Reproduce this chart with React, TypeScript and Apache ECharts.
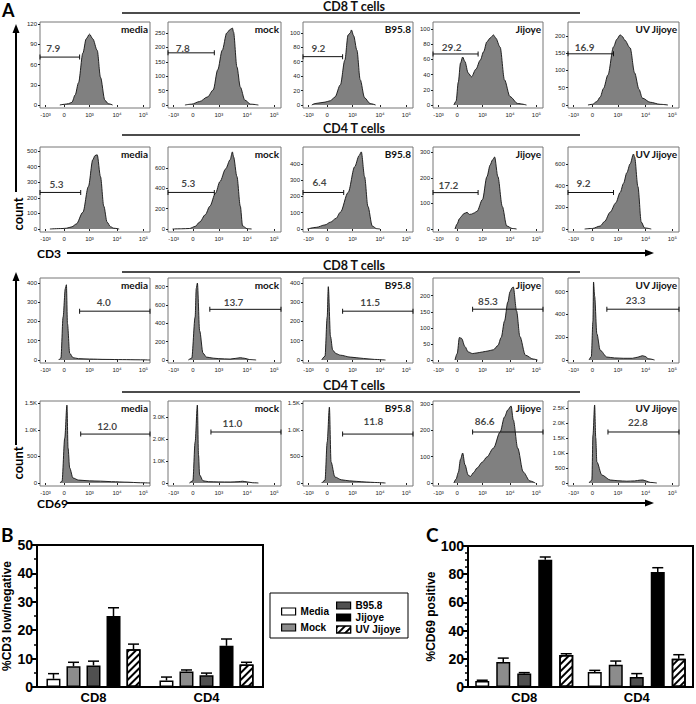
import React, { useEffect, useRef } from 'react';
import * as echarts from 'echarts';

// ---------- Panel A : flow histograms ----------
const conditions = ['media', 'mock', 'B95.8', 'Jijoye', 'UV Jijoye'];
const rowTitles = ['CD8 T cells', 'CD4 T cells', 'CD8 T cells', 'CD4 T cells'];
const flowXTicks = [5, 22, 45, 70, 94];
const flowXLabels = ['-10³', '0', '10³', '10⁴', '10⁵'];

// CD3 staining, CD8 T cells  ([x position %, count])
const cd3Cd8Media = [[18, 0], [22, 1], [26, 2], [29, 4], [32, 15], [35, 33], [39, 77], [42, 98], [45, 105], [48, 98], [52, 81], [55, 41], [59, 7], [62, 2], [66, 0]];
const cd3Cd8Mock = [[15, 0], [21, 3], [28, 12], [35, 28], [40, 52], [44, 122], [48, 190], [52, 250], [55, 262], [57, 267], [58, 253], [61, 132], [64, 62], [68, 17], [73, 3], [80, 0]];
const cd3Cd8B958 = [[8, 0], [11, 2], [20, 4], [25, 6], [29, 11], [34, 28], [38, 62], [41, 97], [43, 100], [44, 104], [46, 96], [49, 76], [52, 35], [56, 10], [61, 2], [66, 0]];
const cd3Cd8Jijoye = [[19, 0], [21, 5], [23, 30], [25, 55], [27, 63], [29, 57], [32, 42], [35, 37], [39, 47], [43, 59], [46, 70], [49, 83], [52, 88], [55, 92], [57, 88], [61, 76], [65, 33], [70, 11], [77, 2], [85, 0]];
const cd3Cd8UV = [[18, 0], [22, 2], [26, 10], [29, 23], [32, 48], [36, 87], [41, 168], [44, 190], [47, 203], [49, 198], [51, 188], [56, 165], [60, 93], [64, 45], [67, 20], [74, 8], [83, 2], [90, 0]];

// CD3 staining, CD4 T cells
const cd3Cd4Media = [[9, 0], [20, 3], [24, 5], [29, 14], [33, 32], [39, 107], [44, 272], [48, 443], [50, 470], [52, 475], [55, 335], [58, 146], [61, 44], [64, 15], [67, 5], [72, 0]];
const cd3Cd4Mock = [[4, 0], [12, 2], [19, 5], [24, 25], [28, 68], [33, 140], [37, 223], [42, 350], [46, 466], [51, 590], [55, 680], [57, 757], [58, 709], [61, 515], [64, 223], [66, 30], [70, 3], [74, 0]];
const cd3Cd4B958 = [[4, 0], [12, 10], [20, 25], [25, 42], [30, 65], [34, 103], [41, 224], [47, 382], [51, 450], [53, 473], [56, 321], [59, 139], [63, 18], [67, 2], [70, 0]];
const cd3Cd4Jijoye = [[20, 0], [22, 20], [24, 40], [26, 50], [28, 60], [31, 65], [33, 57], [35, 58], [37, 62], [40, 69], [45, 115], [49, 204], [52, 250], [54, 269], [56, 281], [59, 204], [63, 88], [67, 12], [72, 2], [76, 0]];
const cd3Cd4UV = [[15, 0], [22, 5], [29, 27], [33, 70], [38, 155], [43, 240], [47, 336], [50, 420], [53, 518], [56, 600], [59, 690], [60, 664], [63, 390], [66, 64], [69, 10], [75, 0]];

// CD69 staining, CD8 T cells
const cd69Cd8Media = [[17, 0], [19, 10], [21, 223], [23, 370], [24, 390], [25, 187], [27, 35], [30, 12], [35, 7], [45, 5], [60, 3], [75, 2], [90, 1], [100, 0]];
const cd69Cd8Mock = [[18, 0], [21, 20], [24, 468], [25, 780], [26, 840], [28, 319], [31, 74], [34, 32], [40, 20], [45, 15], [55, 10], [60, 18], [64, 25], [68, 18], [72, 5], [78, 0]];
const cd69Cd8B958 = [[17, 0], [20, 20], [22, 223], [23, 380], [25, 122], [27, 51], [30, 33], [34, 25], [43, 15], [55, 8], [65, 3], [75, 0]];
const cd69Cd8Jijoye = [[20, 0], [22, 20], [24, 70], [26, 67], [29, 42], [32, 25], [36, 20], [40, 22], [45, 25], [50, 28], [55, 32], [59, 45], [62, 70], [65, 121], [68, 180], [70, 212], [72, 225], [73, 227], [76, 152], [79, 73], [84, 15], [91, 3], [95, 0]];
const cd69Cd8UV = [[19, 0], [21, 30], [22.5, 343], [23, 685], [24, 560], [26, 231], [29, 86], [35, 26], [42, 18], [50, 15], [58, 15], [63, 25], [67, 38], [70, 30], [72, 12], [78, 0]];

// CD69 staining, CD4 T cells
const cd69Cd4Media = [[18, 0], [20, 30], [22.5, 844], [24.5, 1463], [25.5, 656], [27, 281], [30, 94], [35, 55], [45, 40], [55, 35], [65, 25], [80, 15], [90, 5], [100, 0]];
const cd69Cd4Mock = [[19, 0], [22, 100], [24, 1864], [26, 3545], [27, 1273], [28, 364], [31, 100], [36, 60], [45, 50], [55, 45], [62, 60], [66, 80], [70, 50], [75, 10], [80, 0]];
const cd69Cd4B958 = [[17, 0], [20, 50], [22, 769], [24, 1425], [25.5, 394], [29, 113], [35, 60], [42, 40], [49, 30], [58, 18], [65, 10], [75, 0]];
const cd69Cd4Jijoye = [[19, 0], [21, 15], [23, 40], [25, 90], [27, 114], [29, 70], [32, 30], [34, 25], [37, 40], [40, 57], [45, 80], [49, 99], [55, 133], [61, 194], [65, 251], [68, 278], [71, 293], [73, 240], [77, 133], [82, 42], [88, 8], [93, 0]];
const cd69Cd4UV = [[19, 0], [21.5, 100], [22.5, 1600], [24, 2600], [25, 1500], [26, 700], [30.5, 267], [38, 100], [45, 75], [53, 60], [60, 70], [65, 95], [67.5, 100], [71, 60], [74, 20], [80, 0]];

const rowCurves = [
  [cd3Cd8Media, cd3Cd8Mock, cd3Cd8B958, cd3Cd8Jijoye, cd3Cd8UV],
  [cd3Cd4Media, cd3Cd4Mock, cd3Cd4B958, cd3Cd4Jijoye, cd3Cd4UV],
  [cd69Cd8Media, cd69Cd8Mock, cd69Cd8B958, cd69Cd8Jijoye, cd69Cd8UV],
  [cd69Cd4Media, cd69Cd4Mock, cd69Cd4B958, cd69Cd4Jijoye, cd69Cd4UV],
];

// y-axis extent of each histogram
const rowYMax = [
  [123, 288, 115, 109, 240],
  [525, 805, 503, 320, 755],
  [425, 895, 425, 255, 720],
  [1540, 3727, 1540, 312, 2733],
];
const rowYTicks = [
  [[0, 30, 60, 90, 120], [0, 50, 100, 150, 200, 250], [0, 20, 40, 60, 80, 100], [0, 20, 40, 60, 80, 100], [0, 50, 100, 150, 200]],
  [[0, 100, 200, 300, 400, 500], [0, 200, 400, 600], [0, 100, 200, 300, 400], [0, 100, 200, 300], [0, 200, 400, 600]],
  [[0, 100, 200, 300, 400], [0, 200, 400, 600, 800], [0, 100, 200, 300, 400], [0, 50, 100, 150, 200], [0, 200, 400, 600]],
  [[0, 500, 1000, 1500], [0, 1000, 2000, 3000], [0, 500, 1000, 1500], [0, 100, 200, 300], [0, 500, 1000, 1500, 2000, 2500]],
];

// gates: [x start, x end, level]
const rowGates = [
  [[0, 36, 71], [0, 41, 181], [0, 36, 67], [0, 41, 67], [0, 41, 148]],
  [[0, 37, 234], [0, 41, 359], [0, 37, 224], [0, 41, 142], [0, 41, 336]],
  [[36, 100, 253], [37, 100, 553], [36, 100, 253], [36, 100, 158], [35, 100, 446]],
  [[37, 100, 919], [38, 100, 2318], [36, 100, 919], [36, 100, 194], [36, 100, 1700]],
];
const rowGatePct = [
  ['7.9', '7.8', '9.2', '29.2', '16.9'],
  ['5.3', '5.3', '6.4', '17.2', '9.2'],
  ['4.0', '13.7', '11.5', '85.3', '23.3'],
  ['12.0', '11.0', '11.8', '86.6', '22.8'],
];
const rowGatePctPos = [
  [[12, 84], [13, 198], [14, 79], [17, 76], [15, 168]],
  [[15, 285], [18, 447], [15, 291], [14, 173], [14, 427]],
  [[58, 299], [58, 638], [61, 299], [50, 182], [61, 523]],
  [[61, 1069], [57, 2727], [64, 1163], [47, 236], [63, 2033]],
];

// ---------- Panels B and C : bar charts ----------
const groups = ['CD8', 'CD4'];
const treatments = ['Media', 'Mock', 'B95.8', 'Jijoye', 'UV Jijoye'];
const cd3LowMean = [[2.9, 2.3], [7.3, 5.5], [7.6, 4.1], [25.0, 14.5], [13.3, 7.9]];
const cd3LowSem = [[1.8, 1.2], [1.4, 0.5], [1.5, 0.8], [2.9, 2.4], [1.8, 0.8]];
const cd69Mean = [[4.3, 10.6], [17.7, 15.8], [9.5, 7.1], [90.3, 81.6], [22.7, 20.1]];
const cd69Sem = [[0.5, 1.2], [2.8, 2.6], [0.7, 2.4], [1.9, 3.0], [0.9, 2.8]];

// ---------- layout ----------
const colLeft = [40, 168, 303, 433, 568];
const colWidth = [110, 113, 110, 110, 111];
const rowTop = [22, 147, 278, 401];
const rowHeight = [86, 85, 85, 85];
const ruleY = [13, 135, 272, 392];

const CAL = 'Lato, "Open Sans", sans-serif';
const ARIAL = '"Liberation Sans", Arial, sans-serif';

const barStyles: any[] = [
  { color: '#ffffff', borderColor: '#000', borderWidth: 1.5 },
  { color: '#8c8c8c', borderColor: '#000', borderWidth: 1.5 },
  { color: '#505050', borderColor: '#000', borderWidth: 1.5 },
  { color: '#000000', borderColor: '#000', borderWidth: 1.5 },
  {
    color: '#ffffff', borderColor: '#000', borderWidth: 1.5,
    decal: { symbol: 'rect', symbolSize: 1, color: '#000', dashArrayX: [1, 0], dashArrayY: [1.6, 3], rotation: -Math.PI / 4 },
  },
];

function buildOption() {
  const grid: any[] = [];
  const xAxis: any[] = [];
  const yAxis: any[] = [];
  const series: any[] = [];
  const graphic: any[] = [];

  rowCurves.forEach((curves, r) => {
    curves.forEach((curve, c) => {
      const gi = grid.length;
      const h = rowHeight[r];
      const yMax = rowYMax[r][c];
      const ticks = rowYTicks[r][c];
      grid.push({ left: colLeft[c], top: rowTop[r], width: colWidth[c], height: h, show: true, borderColor: '#777', borderWidth: 1 });
      xAxis.push({
        type: 'value', gridIndex: gi, min: 0, max: 100,
        axisLine: { show: false }, splitLine: { show: false },
        axisTick: { show: true, customValues: flowXTicks, length: 2, lineStyle: { color: '#222', width: 1 } },
        axisLabel: {
          customValues: flowXTicks, fontSize: 6, margin: 4, color: '#222', fontFamily: ARIAL,
          formatter: (v: number) => flowXLabels[flowXTicks.indexOf(v)] ?? '',
        },
      });
      yAxis.push({
        type: 'value', gridIndex: gi, min: -3 * yMax / (h - 3), max: yMax,
        axisLine: { show: false }, splitLine: { show: false },
        axisTick: { show: true, customValues: ticks, length: 2, lineStyle: { color: '#222', width: 1 } },
        axisLabel: {
          customValues: ticks, fontSize: 6, margin: 3, color: '#222', fontFamily: ARIAL,
          formatter: (v: number) => (v >= 1000 ? (v / 1000).toFixed(1) + 'K' : String(v)),
        },
      });
      series.push({
        type: 'line', xAxisIndex: gi, yAxisIndex: gi, data: curve, symbol: 'none', silent: true,
        smooth: 0.3, smoothMonotone: 'x',
        lineStyle: { color: '#111', width: 0.9 }, areaStyle: { color: '#808080', opacity: 1 },
      });
      const g = rowGates[r][c];
      series.push({
        type: 'line', xAxisIndex: gi, yAxisIndex: gi, data: [[g[0], g[2]], [g[1], g[2]]], silent: true,
        symbol: 'rect', symbolSize: [1, 5], showSymbol: true,
        itemStyle: { color: '#111' }, lineStyle: { color: '#111', width: 1 },
      });
      series.push({
        type: 'scatter', xAxisIndex: gi, yAxisIndex: gi, data: [rowGatePctPos[r][c]], symbolSize: 1, silent: true,
        itemStyle: { color: 'transparent' },
        label: { show: true, position: 'inside', formatter: rowGatePct[r][c], fontFamily: CAL, fontWeight: 'bold', fontSize: 10, color: '#111' },
      });
      graphic.push({
        type: 'text', x: colLeft[c] + colWidth[c] - 2, y: rowTop[r] + 7,
        style: { text: conditions[c], font: `bold 10px ${CAL}`, fill: '#111', textAlign: 'right', textVerticalAlign: 'middle' },
      });
    });
  });

  // titles and rules above each row
  rowTitles.forEach((t, r) => {
    graphic.push({ type: 'line', shape: { x1: 122, y1: ruleY[r], x2: 580, y2: ruleY[r] }, style: { stroke: '#111', lineWidth: 1.5 } });
    graphic.push({ type: 'text', x: 354, y: ruleY[r] - 6.5, style: { text: t, font: `bold 12.5px ${CAL}`, fill: '#111', textAlign: 'center', textVerticalAlign: 'middle' } });
  });

  // panel letters
  graphic.push({ type: 'text', x: 2, y: 1, style: { text: 'A', font: `bold 18px ${CAL}`, fill: '#000', textAlign: 'left', textVerticalAlign: 'top' } });
  graphic.push({ type: 'text', x: 1, y: 525, style: { text: 'B', font: `bold 19px ${CAL}`, fill: '#000', textAlign: 'left', textVerticalAlign: 'top' } });
  graphic.push({ type: 'text', x: 426, y: 525, style: { text: 'C', font: `bold 19px ${CAL}`, fill: '#000', textAlign: 'left', textVerticalAlign: 'top' } });

  // count arrows (vertical)
  [[27, 192, 214], [275, 445, 463]].forEach(([y1, y2, ty]) => {
    graphic.push({ type: 'line', shape: { x1: 16, y1: y1 + 4, x2: 16, y2 }, style: { stroke: '#000', lineWidth: 2 } });
    graphic.push({ type: 'polygon', shape: { points: [[16, y1 - 3], [12.5, y1 + 6], [19.5, y1 + 6]] }, style: { fill: '#000' } });
    graphic.push({ type: 'text', x: 18, y: ty, rotation: Math.PI / 2, style: { text: 'count', font: `bold 13px ${CAL}`, fill: '#000', textAlign: 'center', textVerticalAlign: 'middle' } });
  });
  // marker arrows (horizontal)
  [['CD3', 253, 67], ['CD69', 503, 67]].forEach(([lab, y, x1]: any) => {
    graphic.push({ type: 'line', shape: { x1, y1: y, x2: 646, y2: y }, style: { stroke: '#000', lineWidth: 2 } });
    graphic.push({ type: 'polygon', shape: { points: [[654, y], [645, y - 3.5], [645, y + 3.5]] }, style: { fill: '#000' } });
    graphic.push({ type: 'text', x: 37, y, style: { text: lab, font: `bold 12px ${CAL}`, fill: '#000', textAlign: 'left', textVerticalAlign: 'middle' } });
  });

  // ---------- bar charts ----------
  const barPanels = [
    { left: 37, top: 545, width: 226, height: 143, max: 50, interval: 10, minor: 2, name: '%CD3 low/negative', mean: cd3LowMean, sem: cd3LowSem, step: 20, nameGap: 24 },
    { left: 468, top: 546, width: 225, height: 142, max: 100, interval: 20, minor: 4, name: '%CD69 positive', mean: cd69Mean, sem: cd69Sem, step: 21, nameGap: 31 },
  ];
  barPanels.forEach((p) => {
    const gi = grid.length;
    grid.push({ left: p.left, top: p.top, width: p.width, height: p.height, show: true, borderColor: '#000', borderWidth: 2 });
    xAxis.push({
      type: 'category', gridIndex: gi, data: groups,
      axisLine: { show: true, lineStyle: { color: '#000', width: 2 } }, axisTick: { show: false },
      axisLabel: { color: '#000', fontFamily: ARIAL, fontWeight: 'bold', fontSize: 13, margin: 4 },
    });
    yAxis.push({
      type: 'value', gridIndex: gi, min: 0, max: p.max, interval: p.interval,
      axisLine: { show: true, lineStyle: { color: '#000', width: 2 } },
      axisTick: { show: true, length: 5, lineStyle: { color: '#000', width: 2 } },
      minorTick: { show: true, splitNumber: p.minor, length: 3, lineStyle: { color: '#000', width: 1.5 } },
      splitLine: { show: false }, minorSplitLine: { show: false },
      axisLabel: { color: '#000', fontFamily: ARIAL, fontWeight: 'bold', fontSize: 14, margin: 4 },
      name: p.name, nameLocation: 'middle', nameGap: p.nameGap, nameRotate: 90,
      nameTextStyle: { color: '#000', fontFamily: ARIAL, fontWeight: 'bold', fontSize: 12 },
    });
    treatments.forEach((t, i) => {
      series.push({
        type: 'bar', name: t, xAxisIndex: gi, yAxisIndex: gi, data: p.mean[i],
        barWidth: 14, barGap: p.step === 20 ? '43%' : '50%', itemStyle: barStyles[i], silent: true,
      });
    });
    const errData: number[][] = [];
    treatments.forEach((_, i) => groups.forEach((__, g) => errData.push([g, i, p.mean[i][g], p.mean[i][g] + p.sem[i][g]])));
    series.push({
      type: 'custom', xAxisIndex: gi, yAxisIndex: gi, data: errData, silent: true, z: 3,
      encode: { x: 0, y: [2, 3] },
      renderItem: (params: any, api: any) => {
        const base = api.coord([api.value(0), api.value(2)]);
        const top = api.coord([api.value(0), api.value(3)]);
        const cx = base[0] + (api.value(1) - 2) * p.step;
        return {
          type: 'group',
          children: [
            { type: 'line', shape: { x1: cx, y1: base[1], x2: cx, y2: top[1] }, style: { stroke: '#000', lineWidth: 1.5 } },
            { type: 'line', shape: { x1: cx - 5.5, y1: top[1], x2: cx + 5.5, y2: top[1] }, style: { stroke: '#000', lineWidth: 1.5 } },
          ],
        };
      },
    });
  });

  // legend frame
  graphic.push({ type: 'rect', shape: { x: 270, y: 593, width: 138, height: 45 }, style: { fill: 'none', stroke: '#000', lineWidth: 1 } });

  const legendText = { fontFamily: ARIAL, fontWeight: 'bold', fontSize: 10, color: '#000', lineHeight: 11 };
  const legend = [
    { data: treatments.slice(0, 2), orient: 'vertical', left: 281, top: 606, itemWidth: 14, itemHeight: 7, itemGap: 5, itemStyle: { borderWidth: 1.2 }, icon: 'rect', selectedMode: false, textStyle: legendText, padding: 0 },
    { data: treatments.slice(2), orient: 'vertical', left: 336, top: 600, itemWidth: 14, itemHeight: 7, itemGap: 1, itemStyle: { borderWidth: 1.2 }, icon: 'rect', selectedMode: false, textStyle: legendText, padding: 0 },
  ];

  return { animation: false, backgroundColor: '#fff', grid, xAxis, yAxis, series, graphic, legend };
}

export default function App() {
  const ref = useRef<HTMLDivElement>(null);
  useEffect(() => {
    document.body.style.margin = '0';
    const chart = echarts.init(ref.current!, undefined, { renderer: 'svg' });
    chart.setOption(buildOption() as any);
    return () => chart.dispose();
  }, []);
  return <div ref={ref} style={{ position: 'absolute', left: 0, top: 0, width: 696, height: 704 }} />;
}
